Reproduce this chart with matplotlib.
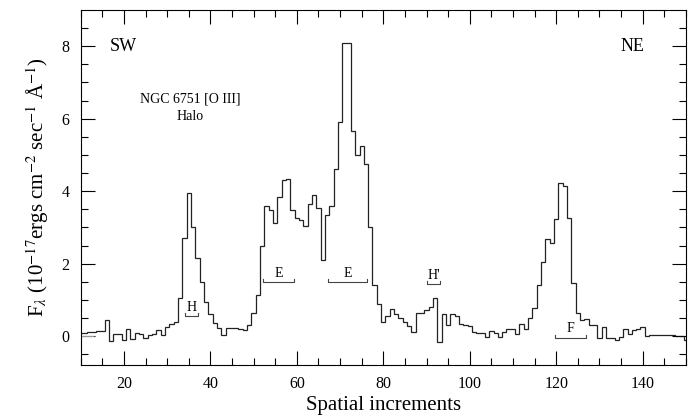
import numpy as np
import matplotlib.pyplot as plt

plt.rcParams['font.family'] = ['Liberation Serif', 'DejaVu Serif']
plt.rcParams['mathtext.fontset'] = 'stix'

# spatial increment (bin centres) and [O III] flux per bin
pos = np.arange(10, 151)
flux = [0.1, 0.1, 0.12, 0.12, 0.15, 0.15, 0.44, -0.13, 0.05, 0.05,
        -0.11, 0.2, -0.09, 0.09, 0.05, -0.04, 0.03, 0.07, 0.17, 0.03,
        0.26, 0.33, 0.38, 1.05, 2.7, 3.95, 3.0, 2.15, 1.5, 0.95,
        0.6, 0.36, 0.22, 0.03, 0.22, 0.22, 0.22, 0.2, 0.18, 0.3,
        0.63, 1.15, 2.5, 3.58, 3.48, 3.13, 3.85, 4.3, 4.35, 3.48,
        3.25, 3.2, 3.05, 3.65, 3.9, 3.55, 2.1, 3.35, 3.6, 4.6,
        5.9, 8.1, 8.1, 5.67, 5.0, 5.25, 4.75, 3.0, 1.4, 0.9,
        0.38, 0.55, 0.74, 0.62, 0.5, 0.4, 0.28, 0.12, 0.63, 0.65,
        0.72, 0.8, 1.05, -0.15, 0.6, 0.3, 0.6, 0.55, 0.35, 0.3,
        0.28, 0.12, 0.1, 0.1, -0.02, 0.15, 0.08, -0.02, 0.12, 0.2,
        0.2, 0.05, 0.35, 0.2, 0.5, 0.77, 1.42, 2.06, 2.67, 2.57,
        3.22, 4.24, 4.15, 3.27, 1.46, 0.63, 0.44, 0.48, 0.3, 0.3,
        -0.06, 0.26, -0.06, -0.04, -0.1, -0.02, 0.2, 0.07, 0.18, 0.2,
        0.26, 0.0, 0.03, 0.03, 0.02, 0.02, 0.02, 0.02, 0.01, 0.0,
        -0.1]

# marked regions (label, start, end, level)
region_labels = ['H', 'E', 'E', "H'", 'F']
region_start = [34.1, 52.2, 67.2, 90.1, 119.8]
region_end = [37.2, 59.3, 76.2, 93.1, 126.9]
region_level = [0.55, 1.5, 1.5, 1.44, -0.04]

fig = plt.figure(figsize=(6.9, 4.15), dpi=100)
ax = fig.add_axes([0.117, 0.12, 0.877, 0.856])

edges = np.append(pos - 0.5, pos[-1] + 0.5)
ax.stairs(flux, edges, color='#222222', lw=0.9)
ax.hlines(0, 10, 13, color='#999999', lw=0.8)

for lab, x0, x1, lev in zip(region_labels, region_start, region_end, region_level):
    ax.plot([x0, x0, x1, x1], [lev + 0.08, lev, lev, lev + 0.08],
            color='#444444', lw=0.8)
    ax.text((x0 + x1) / 2, lev + 0.06, lab, ha='center', va='bottom',
            fontsize=10)

ax.text(19.8, 8.0, 'SW', ha='center', va='center', fontsize=13)
ax.text(137.6, 8.0, 'NE', ha='center', va='center', fontsize=13)
ax.text(35.3, 6.55, 'NGC 6751 [O III]', ha='center', va='center', fontsize=10)
ax.text(35.3, 6.05, 'Halo', ha='center', va='center', fontsize=10)

ax.set_xlim(10, 150)
ax.set_ylim(-0.8, 9.0)
ax.set_xticks([20, 40, 60, 80, 100, 120, 140])
ax.set_xticks(np.arange(10, 151, 5), minor=True)
ax.set_yticks([0, 2, 4, 6, 8])
ax.set_yticks(np.arange(-0.5, 9.0, 0.5), minor=True)
ax.tick_params(which='both', direction='in', top=True, right=True,
               labelsize=11.5, width=0.8)
ax.tick_params(which='major', length=10, pad=8)
ax.tick_params(which='minor', length=5)
for s in ax.spines.values():
    s.set_linewidth(0.8)

ax.set_xlabel('Spatial increments', fontsize=15, labelpad=3)
ax.set_ylabel(r'F$_\lambda$ (10$^{-17}$ergs cm$^{-2}$ sec$^{-1}$ Å$^{-1}$)',
              fontsize=15, labelpad=8)

fig.savefig('out.png', dpi=100)
